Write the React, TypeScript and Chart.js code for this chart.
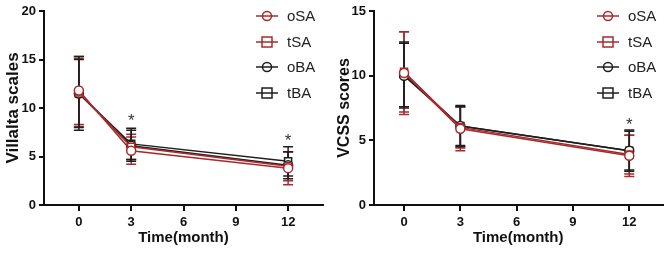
import React, { useEffect, useRef } from "react";
import { Chart, registerables } from "chart.js";

Chart.register(...registerables);

const FONT = "'Liberation Sans', Arial, Helvetica, sans-serif";

const months = [0, 3, 12];
const xTicks = [0, 3, 6, 9, 12];
const seriesNames = ["oSA", "tSA", "oBA", "tBA"];
const seriesColors = ["#a82a2d", "#a82a2d", "#1e1e1e", "#1e1e1e"];
const seriesShapes = ["circle", "rect", "circle", "rect"];

// Villalta scales
const villaltaOSA = [11.8, 5.6, 3.8];
const villaltaTSA = [11.6, 6.0, 4.0];
const villaltaOBA = [11.5, 6.1, 4.1];
const villaltaTBA = [11.5, 6.3, 4.5];
const villaltaOSASd = [3.5, 1.4, 1.7];
const villaltaTSASd = [3.5, 1.3, 1.5];
const villaltaOBASd = [3.5, 1.6, 1.4];
const villaltaTBASd = [3.8, 1.6, 1.5];
const villaltaYTicks = [0, 5, 10, 15, 20];
const villaltaStarX = [3, 12];
const villaltaStarY = [8.9, 6.9];

// VCSS scores
const vcssOSA = [10.2, 5.9, 3.8];
const vcssTSA = [10.3, 6.0, 3.9];
const vcssOBA = [10.0, 6.1, 4.2];
const vcssTBA = [10.1, 6.1, 4.2];
const vcssOSASd = [3.2, 1.7, 1.6];
const vcssTSASd = [3.1, 1.6, 1.5];
const vcssOBASd = [2.5, 1.5, 1.5];
const vcssTBASd = [2.5, 1.6, 1.6];
const vcssYTicks = [0, 5, 10, 15];
const vcssStarX = [12];
const vcssStarY = [6.4];

type PanelProps = {
  width: number;
  yTitle: string;
  yTitleSize: number;
  yTitlePad: number;
  means: number[][];
  sds: number[][];
  yTicks: number[];
  xMin: number;
  xMax: number;
  yAxisWidth: number;
  padRight: number;
  starX: number[];
  starY: number[];
  legendX: number;
};

function Panel(p: PanelProps) {
  const ref = useRef<HTMLCanvasElement | null>(null);
  useEffect(() => {
    if (!ref.current) return;
    const datasets = seriesNames.map((name, i) => ({
      label: name,
      data: months.map((m, j) => ({ x: m, y: p.means[i][j] })),
      borderColor: seriesColors[i],
      backgroundColor: "#ffffff",
      borderWidth: 1.5,
      pointStyle: seriesShapes[i] as any,
      pointRadius: seriesShapes[i] === "rect" ? 5 : 4.5,
      pointBorderWidth: 1.5,
      showLine: true,
      tension: 0,
    }));

    const extras = {
      id: "extras",
      beforeDatasetsDraw(chart: any) {
        const ctx = chart.ctx;
        const xs = chart.scales.x;
        const ys = chart.scales.y;
        ctx.save();
        seriesNames.forEach((_, i) => {
          ctx.strokeStyle = seriesColors[i];
          ctx.lineWidth = 1.5;
          months.forEach((m, j) => {
            const px = xs.getPixelForValue(m);
            const top = ys.getPixelForValue(p.means[i][j] + p.sds[i][j]);
            const bot = ys.getPixelForValue(p.means[i][j] - p.sds[i][j]);
            ctx.beginPath();
            ctx.moveTo(px, top);
            ctx.lineTo(px, bot);
            ctx.moveTo(px - 5, top);
            ctx.lineTo(px + 5, top);
            ctx.moveTo(px - 5, bot);
            ctx.lineTo(px + 5, bot);
            ctx.stroke();
          });
        });
        ctx.restore();
      },
      afterDraw(chart: any) {
        const ctx = chart.ctx;
        const xs = chart.scales.x;
        const ys = chart.scales.y;
        ctx.save();
        // asterisks
        ctx.fillStyle = "#333";
        ctx.font = `17px ${FONT}`;
        ctx.textAlign = "center";
        ctx.textBaseline = "middle";
        p.starX.forEach((sx, k) => {
          ctx.fillText("*", xs.getPixelForValue(sx), ys.getPixelForValue(p.starY[k]) + 3);
        });
        // legend
        const rowY = [16, 42, 67, 93];
        seriesNames.forEach((name, i) => {
          const y = rowY[i];
          const x0 = p.legendX;
          ctx.strokeStyle = seriesColors[i];
          ctx.lineWidth = 1.5;
          ctx.beginPath();
          ctx.moveTo(x0, y);
          ctx.lineTo(x0 + 22, y);
          ctx.stroke();
          ctx.fillStyle = "#fff";
          const cx = x0 + 11;
          if (seriesShapes[i] === "circle") {
            ctx.beginPath();
            ctx.arc(cx, y, 4.5, 0, Math.PI * 2);
            ctx.fill();
            ctx.stroke();
            ctx.beginPath();
            ctx.moveTo(cx - 4.5, y);
            ctx.lineTo(cx + 4.5, y);
            ctx.stroke();
          } else {
            ctx.fillRect(cx - 5, y - 5, 10, 10);
            ctx.strokeRect(cx - 5, y - 5, 10, 10);
            ctx.beginPath();
            ctx.moveTo(cx - 5, y);
            ctx.lineTo(cx + 5, y);
            ctx.stroke();
          }
          ctx.fillStyle = "#222";
          ctx.font = `15px ${FONT}`;
          ctx.textAlign = "left";
          ctx.textBaseline = "middle";
          ctx.fillText(name, x0 + 31, y + 1);
        });
        ctx.restore();
      },
    };

    const chart = new Chart(ref.current, {
      type: "scatter",
      data: { datasets: datasets as any },
      plugins: [extras],
      options: {
        animation: false,
        responsive: false,
        layout: { padding: { top: 11, right: p.padRight, left: 0, bottom: 0 } },
        plugins: { legend: { display: false }, tooltip: { enabled: false } },
        scales: {
          x: {
            type: "linear",
            min: p.xMin,
            max: p.xMax,
            afterBuildTicks: (s: any) => {
              s.ticks = xTicks.map((v) => ({ value: v }));
            },
            afterFit: (s: any) => {
              s.height = 53;
            },
            border: { display: true, color: "#111", width: 2 },
            grid: { drawOnChartArea: false, drawTicks: true, tickLength: 6, color: "#111", lineWidth: 2 },
            ticks: { color: "#111", font: { family: FONT, size: 13, weight: "bold" }, padding: 4 },
            title: {
              display: true,
              text: "Time(month)",
              color: "#111",
              font: { family: FONT, size: 15, weight: "bold" },
              padding: { top: 0, bottom: 11 },
            },
          },
          y: {
            type: "linear",
            min: p.yTicks[0],
            max: p.yTicks[p.yTicks.length - 1],
            afterBuildTicks: (s: any) => {
              s.ticks = p.yTicks.map((v) => ({ value: v }));
            },
            afterFit: (s: any) => {
              s.width = p.yAxisWidth;
            },
            border: { display: true, color: "#111", width: 2 },
            grid: { drawOnChartArea: false, drawTicks: true, tickLength: 5, color: "#111", lineWidth: 2 },
            ticks: { color: "#111", font: { family: FONT, size: 13, weight: "bold" }, padding: 3 },
            title: {
              display: true,
              text: p.yTitle,
              color: "#111",
              font: { family: FONT, size: p.yTitleSize, weight: "bold" },
              padding: { top: p.yTitlePad, bottom: 0 },
            },
          },
        },
      } as any,
    });
    return () => chart.destroy();
  }, []);
  return <canvas ref={ref} width={p.width} height={258} style={{ display: "block", width: p.width, height: 258 }} />;
}

export default function App() {
  return (
    <div style={{ position: "absolute", left: 0, top: 0, width: 669, height: 258, display: "flex", background: "#fff" }}>
      <Panel
        width={335}
        yTitle="Villalta scales"
        yTitleSize={17}
        yTitlePad={3}
        means={[villaltaOSA, villaltaTSA, villaltaOBA, villaltaTBA]}
        sds={[villaltaOSASd, villaltaTSASd, villaltaOBASd, villaltaTBASd]}
        yTicks={villaltaYTicks}
        xMin={-2}
        xMax={14}
        yAxisWidth={44}
        padRight={12}
        starX={villaltaStarX}
        starY={villaltaStarY}
        legendX={256}
      />
      <Panel
        width={334}
        yTitle="VCSS scores"
        yTitleSize={16}
        yTitlePad={0}
        means={[vcssOSA, vcssTSA, vcssOBA, vcssTBA]}
        sds={[vcssOSASd, vcssTSASd, vcssOBASd, vcssTBASd]}
        yTicks={vcssYTicks}
        xMin={-1.6}
        xMax={13.77}
        yAxisWidth={39}
        padRight={0}
        starX={vcssStarX}
        starY={vcssStarY}
        legendX={262}
      />
    </div>
  );
}
